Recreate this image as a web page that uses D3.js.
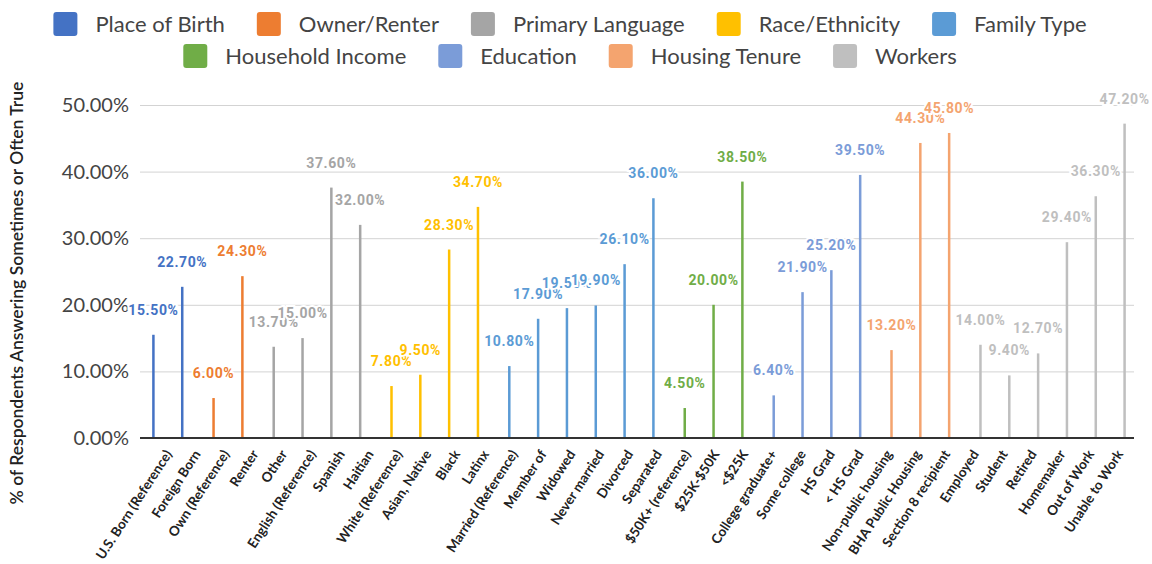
<!DOCTYPE html>
<html>
<head>
<meta charset="utf-8">
<script src="https://cdn.jsdelivr.net/npm/d3@7"></script>
<style>
  body { margin: 0; background: #fff; }
  svg { display: block; font-family: Lato, "Open Sans", sans-serif; }
</style>
</head>
<body>
<svg width="1152" height="564"></svg>
<script>
const seriesNames = ["Place of Birth", "Owner/Renter", "Primary Language", "Race/Ethnicity",
  "Family Type", "Household Income", "Education", "Housing Tenure", "Workers"];
const seriesColors = ["#4472C4", "#ED7D31", "#A5A5A5", "#FFC000", "#5B9BD5",
  "#70AD47", "#7B9CD8", "#F4A46F", "#BFBFBF"];

const categories = ["U.S. Born (Reference)", "Foreign Born", "Own (Reference)", "Renter",
  "Other", "English (Reference)", "Spanish", "Haitian",
  "White (Reference)", "Asian, Native", "Black", "Latinx",
  "Married (Reference)", "Member of", "Widowed", "Never married", "Divorced", "Separated",
  "$50K+ (reference)", "$25K-$50K", "<$25K",
  "College graduate+", "Some college", "HS Grad", "< HS Grad",
  "Non-public housing", "BHA Public Housing", "Section 8 recipient",
  "Employed", "Student", "Retired", "Homemaker", "Out of Work", "Unable to Work"];
const values = [15.5, 22.7, 6.0, 24.3,
  13.7, 15.0, 37.6, 32.0,
  7.8, 9.5, 28.3, 34.7,
  10.8, 17.9, 19.5, 19.9, 26.1, 36.0,
  4.5, 20.0, 38.5,
  6.4, 21.9, 25.2, 39.5,
  13.2, 44.3, 45.8,
  14.0, 9.4, 12.7, 29.4, 36.3, 47.2];
// which series each category belongs to
const seriesOf = [0, 0, 1, 1, 2, 2, 2, 2, 3, 3, 3, 3, 4, 4, 4, 4, 4, 4,
  5, 5, 5, 6, 6, 6, 6, 7, 7, 7, 8, 8, 8, 8, 8, 8];
const yTicks = [0, 10, 20, 30, 40, 50];

const rows = categories.map((c, i) => ({ cat: c, value: values[i], series: seriesNames[seriesOf[i]], s: seriesOf[i] }));

const svg = d3.select("svg");
const plot = { left: 140, right: 1134, top: 105, bottom: 438 };

const x = d3.scaleBand().domain(categories).range([149, 1129]);
const xs = d3.scaleBand().domain(seriesNames)
  .range([x.bandwidth() / 2 - 11.25, x.bandwidth() / 2 + 11.25]);
const y = d3.scaleLinear().domain([0, 50]).range([plot.bottom, plot.top]);
const color = d3.scaleOrdinal().domain(seriesNames).range(seriesColors);

// gridlines + y labels
const yAxis = d3.axisLeft(y).tickValues(yTicks)
  .tickSize(-(plot.right - plot.left)).tickPadding(10)
  .tickFormat(d => d3.format(".2%")(d / 100));
svg.append("g")
  .attr("transform", `translate(${plot.left},0)`)
  .call(yAxis)
  .call(g => g.select(".domain").remove())
  .call(g => g.selectAll("line").attr("stroke", "#d3d3d3"))
  .call(g => g.selectAll("text").attr("fill", "#444").style("font-size", "20px")
    .style("font-family", "Lato, sans-serif").attr("x", -11));

// bars
svg.append("g").selectAll("rect")
  .data(rows)
  .join("rect")
  .attr("x", d => x(d.cat) + xs(d.series))
  .attr("width", xs.bandwidth())
  .attr("y", d => y(d.value))
  .attr("height", d => y(0) - y(d.value))
  .attr("fill", d => color(d.series));

// baseline
svg.append("line")
  .attr("x1", plot.left).attr("x2", plot.right)
  .attr("y1", y(0)).attr("y2", y(0))
  .attr("stroke", "#333").attr("stroke-width", 2);

// data labels
svg.append("g").selectAll("text")
  .data(rows)
  .join("text")
  .attr("x", d => x(d.cat) + xs(d.series) + xs.bandwidth() / 2)
  .attr("y", d => y(d.value) - 20)
  .attr("text-anchor", "middle")
  .attr("fill", d => color(d.series))
  .attr("stroke", "#fff").attr("stroke-width", 4)
  .attr("paint-order", "stroke")
  .style("font-family", "Roboto, sans-serif")
  .style("font-weight", "bold")
  .style("font-size", "14px")
  .style("letter-spacing", "0.6px")
  .text(d => d3.format(".2f")(d.value) + "%");

// x labels
svg.append("g").selectAll("text")
  .data(categories)
  .join("text")
  .attr("text-anchor", "end")
  .attr("transform", d => `translate(${x(d) + x.bandwidth() / 2 + 9},454) rotate(-57)`)
  .attr("fill", "#222")
  .style("font-size", "13.5px")
  .style("font-weight", "bold")
  .text(d => d);

// y title
svg.append("text")
  .attr("transform", "translate(23,293) rotate(-90)")
  .attr("text-anchor", "middle")
  .attr("fill", "#222")
  .style("font-size", "17.5px")
  .style("font-weight", "600")
  .text("% of Respondents Answering Sometimes or Often True");

// legend, two centered rows
const legendRows = [seriesNames.slice(0, 5), seriesNames.slice(5)];
const legendY = [24, 56];
legendRows.forEach((names, r) => {
  const g = svg.append("g");
  let cx = 0;
  names.forEach(name => {
    const item = g.append("g").attr("transform", `translate(${cx},0)`);
    item.append("rect")
      .attr("x", 0).attr("y", -12).attr("width", 24).attr("height", 24)
      .attr("rx", 3).attr("fill", color(name));
    const t = item.append("text")
      .attr("x", 42).attr("y", 8)
      .attr("fill", "#444")
      .style("font-size", "22px")
      .text(name);
    cx += 42 + t.node().getComputedTextLength() + 32;
  });
  const total = cx - 32;
  g.attr("transform", `translate(${570 - total / 2},${legendY[r]})`);
});
</script>
</body>
</html>
